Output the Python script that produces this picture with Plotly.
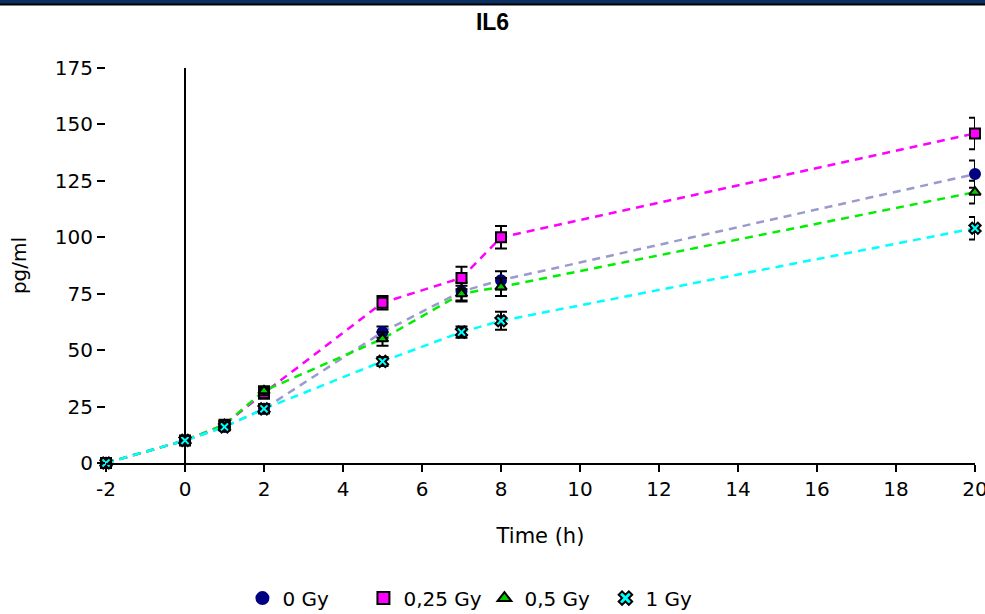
import plotly.graph_objects as go

# IL6 concentration over time for each irradiation dose
time_h = [-2, 0, 1, 2, 5, 7, 8, 20]

doses = ["0 Gy", "0,25 Gy", "0,5 Gy", "1 Gy"]
il6_0gy = [0, 10, 16, 24, 58, 76, 81, 128]
il6_025gy = [0, 10, 17, 31, 71, 82, 100, 146]
il6_05gy = [0, 10, 17, 32, 55, 75, 78, 120]
il6_1gy = [0, 10, 16, 24, 45, 58, 63, 104]

err_0gy = [0, 1, 1.5, 2, 2.5, 4, 4, 6]
err_025gy = [0, 1, 1.5, 2.5, 3, 5, 5, 7]
err_05gy = [0, 1, 1.5, 2, 3, 3.5, 4, 5]
err_1gy = [0, 1, 1.5, 2, 2, 2.5, 4, 5]

x_ticks = [-2, 0, 2, 4, 6, 8, 10, 12, 14, 16, 18, 20]
y_ticks = [0, 25, 50, 75, 100, 125, 150, 175]

series = [
    (doses[0], il6_0gy, err_0gy, "#9a9acc", "#000080", "circle", "#000080"),
    (doses[1], il6_025gy, err_025gy, "#ff00ff", "#ff00ff", "square", "#000000"),
    (doses[2], il6_05gy, err_05gy, "#00ee00", "#00cc00", "triangle-up", "#000000"),
    (doses[3], il6_1gy, err_1gy, "#00ffff", "#00ffff", "x", "#000000"),
]

FONT = "DejaVu Sans, Verdana, sans-serif"

fig = go.Figure()

# dashed connecting lines (kept out of the legend)
for name, vals, errs, lcol, mcol, sym, mline in series:
    fig.add_trace(go.Scatter(
        x=time_h, y=vals, mode="lines", showlegend=False,
        line=dict(color=lcol, width=2.5, dash="8px,6px"),
        hoverinfo="skip", cliponaxis=False,
    ))

# markers with error bars
for name, vals, errs, lcol, mcol, sym, mline in series:
    fig.add_trace(go.Scatter(
        x=time_h, y=vals, mode="markers", name=name,
        marker=dict(symbol=sym, size=10, color=mcol,
                    line=dict(color=mline, width=2)),
        error_y=dict(type="data", array=errs, visible=True,
                     color="#000000", thickness=2, width=6),
        cliponaxis=False,
    ))

# vertical axis drawn at t = 0
fig.add_shape(type="line", xref="x", yref="y", x0=0, x1=0, y0=0, y1=175,
              line=dict(color="#000000", width=2), layer="below")

# header band along the top edge
fig.add_shape(type="rect", xref="paper", yref="paper",
              x0=-0.2, x1=1.1, y0=1.0 + 64 / 395, y1=1.0 + 70 / 395,
              fillcolor="#0b3060", line=dict(width=0))
fig.add_shape(type="line", xref="paper", yref="paper",
              x0=-0.2, x1=1.1, y0=1.0 + 63.5 / 395, y1=1.0 + 63.5 / 395,
              line=dict(color="#000000", width=2))

fig.update_layout(
    width=985, height=614,
    margin=dict(l=106, r=10, t=68, b=151, autoexpand=False),
    paper_bgcolor="white", plot_bgcolor="white",
    font=dict(family=FONT, size=20, color="#000000"),
    title=dict(text="<b>IL6</b>", x=0.5, xanchor="center", y=0.964, yanchor="middle",
               font=dict(family="Liberation Sans, Arial, sans-serif", size=23, color="#000000")),
    xaxis=dict(
        range=[-2, 20], tickvals=x_ticks, ticktext=[str(v) for v in x_ticks],
        showgrid=False, zeroline=False, showline=True, linecolor="#000000", linewidth=2,
        ticks="outside", ticklen=7, tickwidth=2, tickcolor="#000000",
        tickfont=dict(size=20, family=FONT), automargin=False,
        ticklabeloverflow="allow",
        title=dict(text="Time (h)", font=dict(size=21, family=FONT), standoff=28),
    ),
    yaxis=dict(
        range=[0, 175], tickvals=y_ticks, ticktext=[str(v) for v in y_ticks],
        showgrid=False, zeroline=False, showline=False,
        ticks="outside", ticklen=8, tickwidth=2, tickcolor="#000000",
        tickfont=dict(size=20, family=FONT), automargin=False,
        ticklabeloverflow="allow",
        title=dict(text="pg/ml", font=dict(size=20, family=FONT), standoff=22),
    ),
    legend=dict(
        orientation="h", x=0.157, xanchor="left", y=-0.342, yanchor="middle",
        entrywidth=76, entrywidthmode="pixels",
        font=dict(size=20, family=FONT), bgcolor="rgba(0,0,0,0)",
        itemsizing="constant",
    ),
    showlegend=True,
)

fig.write_html("out.html")
